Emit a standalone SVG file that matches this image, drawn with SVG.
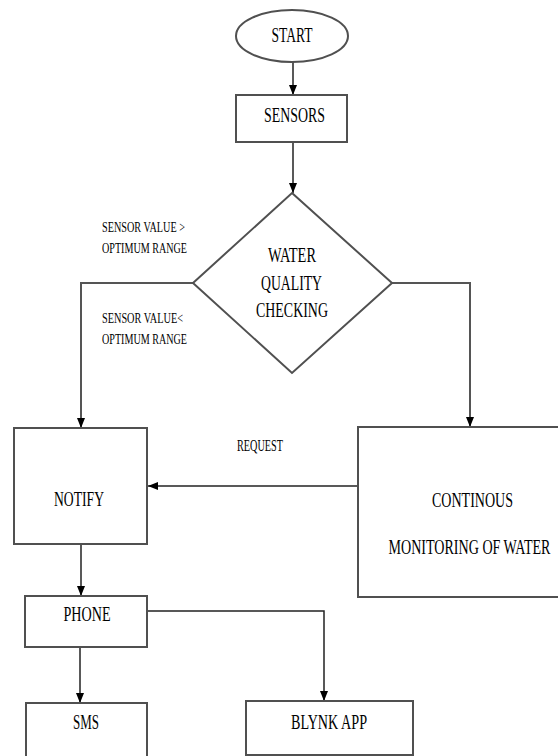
<svg xmlns="http://www.w3.org/2000/svg" width="558" height="756" viewBox="0 0 558 756">
<style>
.box{fill:#fff;stroke:#505050;stroke-width:2}
.t{font-family:"Liberation Serif","Times New Roman",serif;fill:#000;text-anchor:middle}
.big{font-size:20px}
.sm{font-size:15px;text-anchor:start}
.mid{font-size:17px}
.c{fill:none;stroke:#222;stroke-width:1.5}
.cg{fill:none;stroke:#555;stroke-width:2}
</style>
<defs>
<marker id="ah" markerUnits="userSpaceOnUse" markerWidth="10" markerHeight="10" viewBox="0 0 10 10" refX="10" refY="5" orient="auto">
<path d="M0,1 L10,5 L0,9 Z" fill="#000"/>
</marker>
</defs>
<rect width="558" height="756" fill="#fff"/>
<g id="connectors">
<path class="c" d="M293,62 V95" marker-end="url(#ah)"/>
<path class="c" d="M293,142 V193" marker-end="url(#ah)"/>
<path class="cg" d="M193,283 H81 V428" marker-end="url(#ah)"/>
<path class="cg" d="M392,283 H470 V427" marker-end="url(#ah)"/>
<path class="c" d="M358,486 H148" stroke-width="2.2" marker-end="url(#ah)"/>
<path class="c" d="M81,544 V596" marker-end="url(#ah)"/>
<path class="c" d="M80,647 V703" marker-end="url(#ah)"/>
<path class="c" d="M147,611 H324 V701" marker-end="url(#ah)"/>
</g>
<g id="labels">
<text class="t sm" x="102" y="232" textLength="83" lengthAdjust="spacingAndGlyphs">SENSOR VALUE &gt;</text>
<text class="t sm" x="102" y="253" textLength="85" lengthAdjust="spacingAndGlyphs">OPTIMUM RANGE</text>
<text class="t sm" x="102" y="323" textLength="81" lengthAdjust="spacingAndGlyphs">SENSOR VALUE&lt;</text>
<text class="t sm" x="102" y="344" textLength="85" lengthAdjust="spacingAndGlyphs">OPTIMUM RANGE</text>
<text class="t mid" x="260" y="451" textLength="46" lengthAdjust="spacingAndGlyphs">REQUEST</text>
</g>
<g id="start">
<ellipse class="box" cx="292" cy="36" rx="56" ry="26"/>
<text class="t big" x="292" y="42" textLength="41" lengthAdjust="spacingAndGlyphs">START</text>
</g>
<g id="sensors">
<rect class="box" x="236" y="95" width="111" height="47"/>
<text class="t big" x="294.5" y="122" textLength="61" lengthAdjust="spacingAndGlyphs">SENSORS</text>
</g>
<g id="decision">
<polygon class="box" points="292,193 392,283 292,373 193,283"/>
<text class="t big" x="292" y="262" textLength="48" lengthAdjust="spacingAndGlyphs">WATER</text>
<text class="t big" x="291.5" y="290" textLength="61" lengthAdjust="spacingAndGlyphs">QUALITY</text>
<text class="t big" x="292" y="317" textLength="72" lengthAdjust="spacingAndGlyphs">CHECKING</text>
</g>
<g id="notify">
<rect class="box" x="14" y="428" width="133" height="116"/>
<text class="t big" x="79" y="506" textLength="50" lengthAdjust="spacingAndGlyphs">NOTIFY</text>
</g>
<g id="monitoring">
<rect class="box" x="358" y="427" width="212" height="170"/>
<text class="t big" x="472.5" y="507" textLength="81" lengthAdjust="spacingAndGlyphs">CONTINOUS</text>
<text class="t big" x="469.5" y="554" textLength="162" lengthAdjust="spacingAndGlyphs">MONITORING OF WATER</text>
</g>
<g id="phone">
<rect class="box" x="25" y="596" width="122" height="51"/>
<text class="t big" x="87" y="621" textLength="47" lengthAdjust="spacingAndGlyphs">PHONE</text>
</g>
<g id="sms">
<rect class="box" x="26" y="703" width="121" height="62"/>
<text class="t big" x="86" y="729" textLength="26" lengthAdjust="spacingAndGlyphs">SMS</text>
</g>
<g id="blynk">
<rect class="box" x="246" y="701" width="167" height="54"/>
<text class="t big" x="329" y="729" textLength="76" lengthAdjust="spacingAndGlyphs">BLYNK APP</text>
</g>
</svg>
